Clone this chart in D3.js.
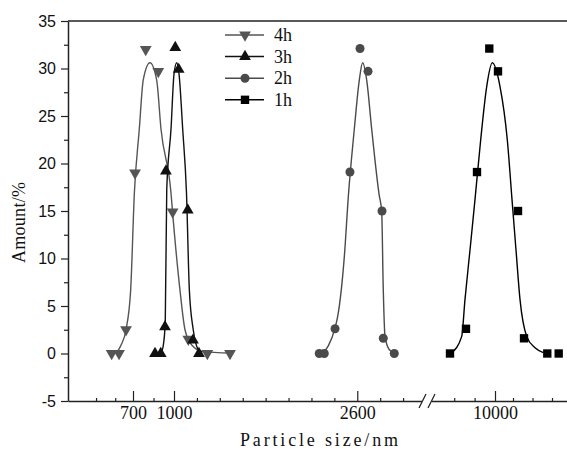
<!DOCTYPE html>
<html>
  <head>
    <title>Particle size distribution</title>
    <meta charset="utf-8">
    <script src="https://cdn.jsdelivr.net/npm/d3@7"></script>
    <style>
      body {margin:0; background:#fff;}
      text {fill:#111;}
    </style>
  </head>
  <body>
  <script>
    // measured points (size in nm, amount in %)
    var size4h = [544, 598, 649, 715, 793, 885, 990, 1125, 1291, 1489];
    var amount4h = [0, 0, 2.5, 19.0, 32.0, 29.7, 14.9, 1.5, 0, 0];
    var size3h = [861, 903, 934, 941, 1011, 1041, 1120, 1166, 1218];
    var amount3h = [0, 0, 2.8, 19.2, 32.2, 29.9, 15.1, 1.4, 0];
    var size2h = [2268, 2312, 2406, 2536, 2624, 2694, 2816, 2827, 2923];
    var amount2h = [0, 0, 2.6, 19.1, 32.1, 29.7, 15.0, 1.6, 0];
    var size1h = [8455, 9004, 9382, 9804, 10100, 10767, 10967, 11743, 12123];
    var amount1h = [0, 2.6, 19.1, 32.1, 29.7, 15.0, 1.6, 0, 0];

    // fitted curves
    var fitSize4h = [581, 610, 649, 683, 710, 746, 775, 824, 873, 905, 978, 990, 1052, 1096, 1155, 1253, 1489];
    var fitAmount4h = [0.1, 0.8, 2.5, 6.7, 16.9, 23.6, 28.8, 30.6, 28.8, 23.6, 16.9, 14.8, 6.7, 2.5, 0.9, 0.2, 0.05];
    var fitSize3h = [905, 920, 936, 947, 978, 1000, 1024, 1044, 1076, 1109, 1134, 1168, 1212, 1244];
    var fitAmount3h = [0.1, 0.7, 3.3, 17.3, 23.6, 29.4, 30.6, 29.4, 23.6, 16.9, 6.7, 2.5, 0.4, 0.1];
    var fitSize2h = [2303, 2347, 2406, 2429, 2487, 2523, 2574, 2618, 2647, 2682, 2726, 2791, 2813, 2827, 2842, 2880, 2923];
    var fitAmount2h = [0.1, 0.8, 2.7, 3.9, 10.2, 16.7, 23.6, 28.8, 30.6, 28.8, 23.6, 16.7, 15.0, 6.7, 1.8, 0.4, 0.1];
    var fitSize1h = [8513, 8857, 8970, 9142, 9313, 9509, 9715, 9907, 10167, 10410, 10567, 10700, 10833, 11057, 11333, 11610];
    var fitAmount1h = [0.1, 1.8, 5.7, 10.9, 16.2, 22.5, 28.1, 30.6, 28.1, 22.5, 16.2, 10.9, 5.7, 1.8, 0.6, 0.1];

    var seriesNames = ["4h", "3h", "2h", "1h"];
    var xTicks = [700, 1000, 2600, 10000];
    var xMinorTicks = [430, 570, 850, 1200, 1400, 1600, 1800, 2000, 2200, 2400, 2800, 3000, 8600, 9300, 10600, 11250, 11900];
    var yTicks = [-5, 0, 5, 10, 15, 20, 25, 30, 35];
    var yMinorTicks = [-2.5, 2.5, 7.5, 12.5, 17.5, 22.5, 27.5, 32.5];

    var width = 567;
    var height = 450;
    var plotLeft = 68, plotRight = 567, plotTop = 21, plotBottom = 401;
    var serif = "'Liberation Serif', 'Times New Roman', serif";

    var svg = d3.select("body")
        .append("svg")
        .attr("width", width)
        .attr("height", height);

    // broken axis: left part 225..3200 nm, right part 7700..12400 nm
    var x = d3.scaleLinear()
        .domain([225, 700, 1000, 3200, 7700, 10000, 12400])
        .range([plotLeft, 133, 174, 426, 428, 495, plotRight]);
    var y = d3.scaleLinear().domain([-5, 35]).range([plotBottom, plotTop]);

    var series = [
      {name: seriesNames[0], xs: size4h, ys: amount4h, fx: fitSize4h, fy: fitAmount4h, color: "#555", sym: d3.symbolTriangle, rot: 180, area: 60},
      {name: seriesNames[1], xs: size3h, ys: amount3h, fx: fitSize3h, fy: fitAmount3h, color: "#111", sym: d3.symbolTriangle, rot: 0, area: 60},
      {name: seriesNames[2], xs: size2h, ys: amount2h, fx: fitSize2h, fy: fitAmount2h, color: "#4a4a4a", sym: d3.symbolCircle, rot: 0, area: 64},
      {name: seriesNames[3], xs: size1h, ys: amount1h, fx: fitSize1h, fy: fitAmount1h, color: "#000", sym: d3.symbolSquare, rot: 0, area: 70}
    ];

    // top frame line
    svg.append("line")
        .attr("x1", plotLeft).attr("x2", plotRight)
        .attr("y1", plotTop).attr("y2", plotTop)
        .attr("stroke", "#222").attr("stroke-width", 1.3);

    // y axis
    var yAxis = svg.append("g")
        .attr("transform", "translate(" + plotLeft + ",0)")
        .call(d3.axisLeft(y).tickValues(yTicks).tickFormat(String)
            .tickSize(7).tickSizeOuter(0).tickPadding(5));
    yAxis.selectAll("text")
        .attr("font-family", "'Liberation Sans', Arial, sans-serif")
        .attr("font-size", 16)
        .attr("fill", "#111");
    svg.append("g")
        .attr("transform", "translate(" + plotLeft + ",0)")
        .call(d3.axisLeft(y).tickValues(yMinorTicks).tickSize(4).tickFormat(""))
        .select(".domain").remove();

    // x axis (ticks point inward)
    var xAxis = svg.append("g")
        .attr("transform", "translate(0," + plotBottom + ")")
        .call(d3.axisBottom(x).tickValues(xTicks).tickFormat(String)
            .tickSizeInner(-10).tickSizeOuter(0).tickPadding(5));
    xAxis.selectAll("text")
        .attr("font-family", serif)
        .attr("font-size", 18)
        .attr("fill", "#111");
    svg.append("g")
        .attr("transform", "translate(0," + plotBottom + ")")
        .call(d3.axisBottom(x).tickValues(xMinorTicks).tickSizeInner(-3).tickSizeOuter(0).tickFormat(""))
        .select(".domain").remove();

    svg.selectAll(".domain").attr("stroke", "#222").attr("stroke-width", 1.5);
    svg.selectAll(".tick line").attr("stroke", "#222").attr("stroke-width", 1.2);

    // axis break marks
    var bx = x(3200) + 1;
    svg.append("rect")
        .attr("x", bx - 5).attr("y", plotBottom - 3)
        .attr("width", 10).attr("height", 6)
        .attr("fill", "#fff");
    [-4.5, 4.5].forEach(function (dx) {
      svg.append("line")
          .attr("x1", bx + dx - 3.5).attr("y1", plotBottom + 7)
          .attr("x2", bx + dx + 3.5).attr("y2", plotBottom - 7)
          .attr("stroke", "#222").attr("stroke-width", 1.3);
    });

    // fitted curves
    var line = d3.line()
        .x(function (d) { return x(d[0]); })
        .y(function (d) { return y(d[1]); })
        .curve(d3.curveMonotoneX);

    series.forEach(function (s) {
      var pts = s.fx.map(function (v, i) { return [v, s.fy[i]]; });
      svg.append("path")
          .attr("d", line(pts))
          .attr("fill", "none")
          .attr("stroke", s.color)
          .attr("stroke-width", 1.4);
    });

    // markers
    series.forEach(function (s) {
      var sym = d3.symbol().type(s.sym).size(s.area);
      svg.append("g").selectAll("path")
          .data(s.xs.map(function (v, i) { return [v, s.ys[i]]; }))
          .enter()
          .append("path")
          .attr("d", sym)
          .attr("transform", function (d) {
            return "translate(" + x(d[0]) + "," + y(d[1]) + ") rotate(" + s.rot + ")"; })
          .attr("fill", s.color);
    });

    // legend
    var legend = svg.append("g").attr("transform", "translate(225,35)");
    series.forEach(function (s, i) {
      var row = legend.append("g").attr("transform", "translate(0," + (i * 21.6) + ")");
      row.append("line")
          .attr("x1", 0).attr("x2", 39)
          .attr("stroke", s.color).attr("stroke-width", 1.5);
      row.append("path")
          .attr("d", d3.symbol().type(s.sym).size(s.area))
          .attr("transform", "translate(20,0) rotate(" + s.rot + ")")
          .attr("fill", s.color);
      row.append("text")
          .attr("x", 49).attr("y", 6)
          .attr("font-family", serif)
          .attr("font-size", 18)
          .text(s.name);
    });

    // axis titles
    svg.append("text")
        .attr("x", 240).attr("y", 446)
        .attr("font-family", serif)
        .attr("font-size", 18)
        .attr("textLength", 158)
        .attr("lengthAdjust", "spacing")
        .text("Particle size/nm");
    svg.append("text")
        .attr("transform", "translate(25,263) rotate(-90)")
        .attr("font-family", serif)
        .attr("font-size", 18)
        .attr("textLength", 81)
        .attr("lengthAdjust", "spacing")
        .text("Amount/%");
  </script>
  </body>
</html>
